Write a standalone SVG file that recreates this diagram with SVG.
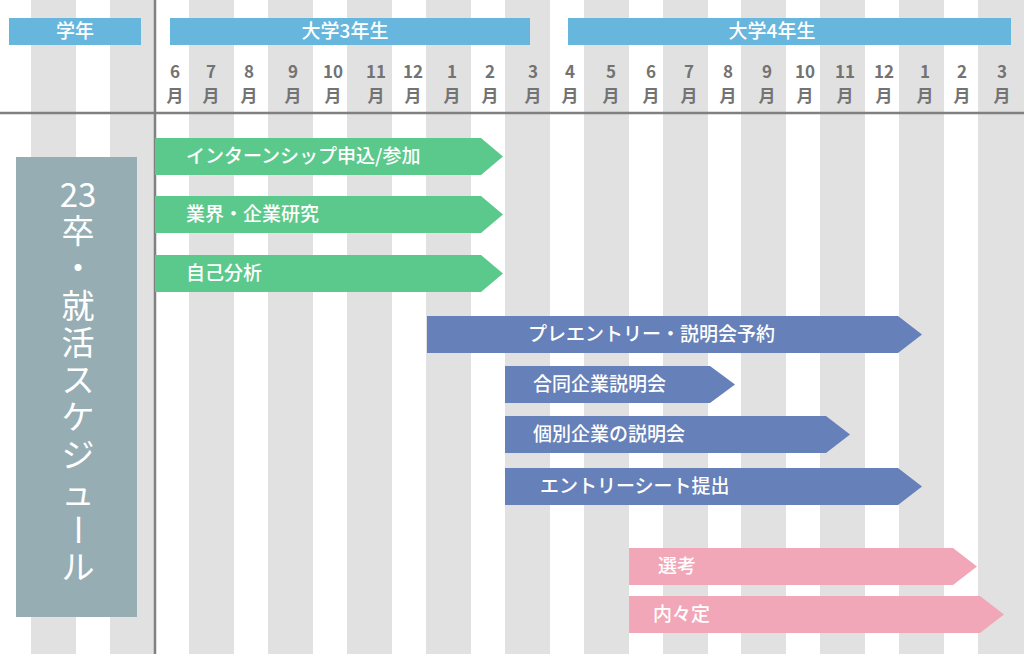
<svg xmlns="http://www.w3.org/2000/svg" width="1024" height="654" viewBox="0 0 1024 654">
<style>
.st{fill:#e1e1e1}
.hb{fill:#67b6dd}
.ht{fill:#fff;font-family:"Noto Sans CJK JP","Noto Sans",sans-serif;font-size:19px;font-weight:500;text-anchor:middle}
.m{fill:#737373;font-family:"Noto Sans CJK JP","Noto Sans",sans-serif;font-size:17px;font-weight:700;text-anchor:middle}
.g{fill:#5cc98c}.b{fill:#6680b9}.p{fill:#f2a7b8}
.at{fill:#fff;font-family:"Noto Sans CJK JP","Noto Sans",sans-serif;font-size:19px;font-weight:500}
.vt{fill:#fff;font-family:"Noto Sans CJK JP","Noto Sans",sans-serif;font-size:33px;font-weight:400;text-anchor:middle}
</style>
<rect width="1024" height="654" fill="#fff"/>
<g id="stripes">
<rect class="st" x="31" y="0" width="45" height="654"/>
<rect class="st" x="110" y="0" width="45" height="654"/>
<rect class="st" x="189" y="0" width="45" height="654"/>
<rect class="st" x="268" y="0" width="45" height="654"/>
<rect class="st" x="347" y="0" width="45" height="654"/>
<rect class="st" x="426" y="0" width="45" height="654"/>
<rect class="st" x="505" y="0" width="45" height="654"/>
<rect class="st" x="584" y="0" width="45" height="654"/>
<rect class="st" x="663" y="0" width="45" height="654"/>
<rect class="st" x="741" y="0" width="45" height="654"/>
<rect class="st" x="820" y="0" width="45" height="654"/>
<rect class="st" x="899" y="0" width="45" height="654"/>
<rect class="st" x="978" y="0" width="46" height="654"/>
</g>
<g id="header">
<rect class="hb" x="9" y="18" width="132" height="27"/><text class="ht" x="75" y="38">学年</text>
<rect class="hb" x="170" y="18" width="360" height="27"/><text class="ht" x="345" y="38">大学3年生</text>
<rect class="hb" x="568" y="18" width="443" height="27"/><text class="ht" x="772" y="38">大学4年生</text>
</g>
<g id="months">
<text class="m" x="175" y="78">6</text><text class="m" x="175" y="102">月</text>
<text class="m" x="211" y="78">7</text><text class="m" x="211" y="102">月</text>
<text class="m" x="249" y="78">8</text><text class="m" x="249" y="102">月</text>
<text class="m" x="293" y="78">9</text><text class="m" x="293" y="102">月</text>
<text class="m" x="333" y="78">10</text><text class="m" x="333" y="102">月</text>
<text class="m" x="376" y="78">11</text><text class="m" x="376" y="102">月</text>
<text class="m" x="413" y="78">12</text><text class="m" x="413" y="102">月</text>
<text class="m" x="452" y="78">1</text><text class="m" x="452" y="102">月</text>
<text class="m" x="490" y="78">2</text><text class="m" x="490" y="102">月</text>
<text class="m" x="533" y="78">3</text><text class="m" x="533" y="102">月</text>
<text class="m" x="570" y="78">4</text><text class="m" x="570" y="102">月</text>
<text class="m" x="611" y="78">5</text><text class="m" x="611" y="102">月</text>
<text class="m" x="651" y="78">6</text><text class="m" x="651" y="102">月</text>
<text class="m" x="689" y="78">7</text><text class="m" x="689" y="102">月</text>
<text class="m" x="728" y="78">8</text><text class="m" x="728" y="102">月</text>
<text class="m" x="767" y="78">9</text><text class="m" x="767" y="102">月</text>
<text class="m" x="805" y="78">10</text><text class="m" x="805" y="102">月</text>
<text class="m" x="845" y="78">11</text><text class="m" x="845" y="102">月</text>
<text class="m" x="884" y="78">12</text><text class="m" x="884" y="102">月</text>
<text class="m" x="925" y="78">1</text><text class="m" x="925" y="102">月</text>
<text class="m" x="962" y="78">2</text><text class="m" x="962" y="102">月</text>
<text class="m" x="1002" y="78">3</text><text class="m" x="1002" y="102">月</text>
</g>
<g id="axes" stroke="#808080" stroke-width="2.5">
<line x1="0" y1="113" x2="1024" y2="113"/>
<line x1="155" y1="0" x2="155" y2="654"/>
</g>
<g id="title">
<rect x="16" y="157" width="121" height="460" fill="#95adb3"/>
<text class="vt" x="78" y="207">23</text>
<text class="vt" x="78" y="243">卒</text>
<text class="vt" x="78" y="280">・</text>
<text class="vt" x="78" y="318">就</text>
<text class="vt" x="78" y="355">活</text>
<text class="vt" x="78" y="392">ス</text>
<text class="vt" x="78" y="429">ケ</text>
<text class="vt" x="78" y="467">ジ</text>
<text class="vt" x="78" y="505">ュ</text>
<text class="vt" x="78" y="542" transform="rotate(90 78 530)">ー</text>
<text class="vt" x="78" y="579">ル</text>
</g>
<g id="a1"><polygon class="g" points="155,138 481,138 503,156.5 481,175 155,175"/><text class="at" x="186" y="163">インターンシップ申込/参加</text></g>
<g id="a2"><polygon class="g" points="155,196 481,196 503,214.5 481,233 155,233"/><text class="at" x="186" y="221">業界・企業研究</text></g>
<g id="a3"><polygon class="g" points="155,255 481,255 503,273.5 481,292 155,292"/><text class="at" x="186" y="280">自己分析</text></g>
<g id="a4"><polygon class="b" points="427,316 898,316 922,334.5 898,353 427,353"/><text class="at" x="528" y="341">プレエントリー・説明会予約</text></g>
<g id="a5"><polygon class="b" points="505,366 710,366 735,384.5 710,403 505,403"/><text class="at" x="533" y="391">合同企業説明会</text></g>
<g id="a6"><polygon class="b" points="505,416 826,416 850,434.5 826,453 505,453"/><text class="at" x="533" y="441">個別企業の説明会</text></g>
<g id="a7"><polygon class="b" points="505,468 898,468 922,486.5 898,505 505,505"/><text class="at" x="540" y="493">エントリーシート提出</text></g>
<g id="a8"><polygon class="p" points="629,548 953,548 977,566.5 953,585 629,585"/><text class="at" x="658" y="573">選考</text></g>
<g id="a9"><polygon class="p" points="629,596 980,596 1004,614.5 980,633 629,633"/><text class="at" x="653" y="621">内々定</text></g>
</svg>
